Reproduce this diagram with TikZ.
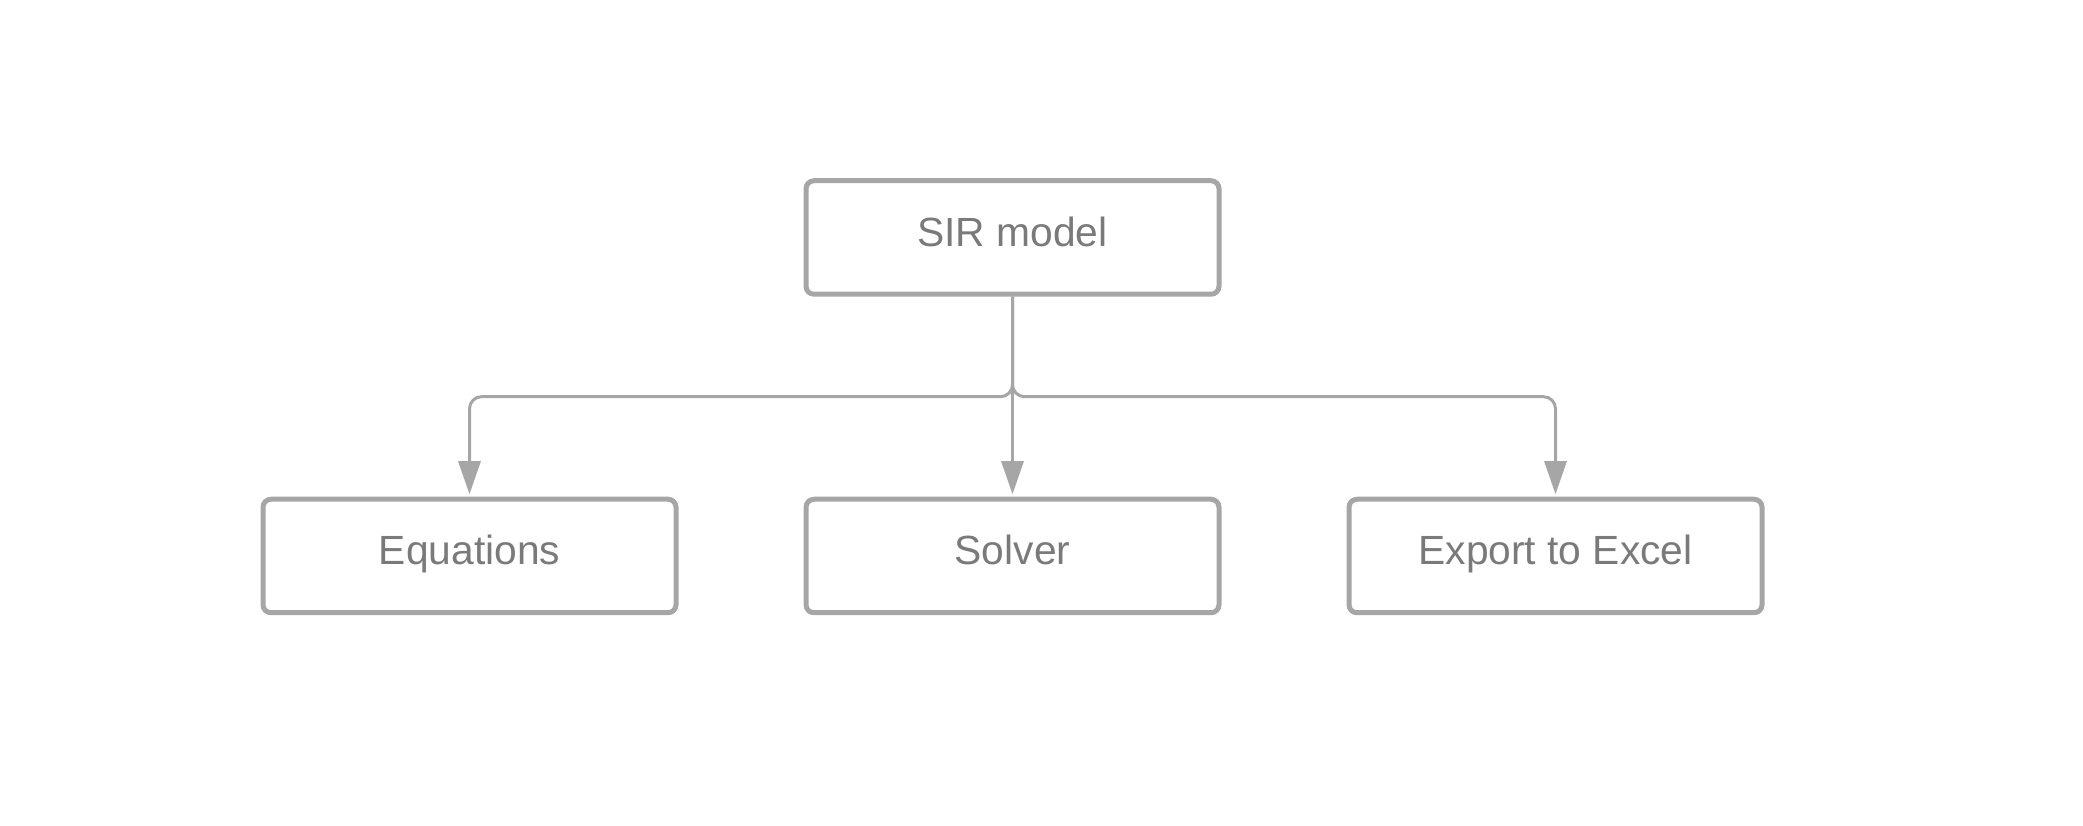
\documentclass[tikz,border=0pt]{standalone}
\usepackage{fontspec}
\setmainfont{Liberation Sans}
\usetikzlibrary{positioning, arrows.meta}
\definecolor{clrborder}{HTML}{A6A6A6}
\definecolor{clrtext}{HTML}{7A7A7A}
\begin{document}
\begin{tikzpicture}[
    >=Stealth,
    every node/.style={font=\fontsize{11.6}{13.5}\selectfont},
    block/.style={draw=clrborder, rounded corners=0.08cm, minimum width=4.13cm,
                  minimum height=1.135cm, text=clrtext, line width=0.05cm,
                  text height=0.75em, text depth=0.25em},
    arrow/.style={-{Triangle[length=0.33cm, width=0.22cm]}, color=clrborder, line width=0.03cm,
                  rounded corners=0.12cm, shorten >=0.025cm},
]
\useasboundingbox (0,0) rectangle (20.83,8.25);
\node[block] (n_1) at (10.125,5.875) {SIR model};
\node[block, below=2.0cm of n_1] (n_3) {Solver};
\node[block, left=1.25cm of n_3] (n_2) {Equations};
\node[block, right=1.25cm of n_3] (n_4) {Export to Excel};
\coordinate (hub) at (n_1.south |- 0,4.283);
\draw[arrow] (n_1.south) -- (hub) -| (n_2.north);
\draw[arrow] (n_1.south) -- (n_3.north);
\draw[arrow] (n_1.south) -- (hub) -| (n_4.north);
\end{tikzpicture}
\end{document}
